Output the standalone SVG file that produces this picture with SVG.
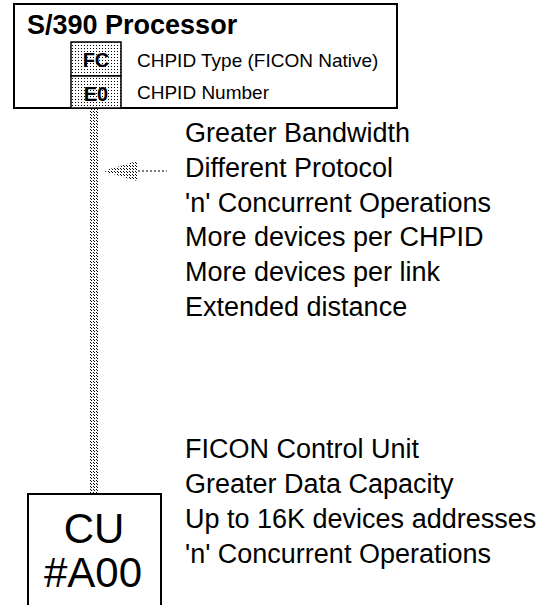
<svg xmlns="http://www.w3.org/2000/svg" width="555" height="605" viewBox="0 0 555 605">
<style>
  text { font-family: "Liberation Sans", Arial, sans-serif; fill: #000; }
  .title { font-size: 27px; font-weight: bold; }
  .small { font-size: 19px; }
  .code { font-size: 20px; font-weight: bold; text-anchor: middle; }
  .note { font-size: 27px; }
  .cu { font-size: 42px; text-anchor: middle; }
  .box { fill: #fff; stroke: #000; stroke-width: 2; }
  .cbox { fill: url(#stip); stroke: #000; stroke-width: 1.5; }
</style>
<defs>
  <pattern id="stip" width="3" height="3" patternUnits="userSpaceOnUse">
    <rect width="3" height="3" fill="#fff"/>
    <rect x="0" y="0" width="1" height="1" fill="#000"/>
  </pattern>
  <pattern id="hatch" width="3" height="3" patternUnits="userSpaceOnUse">
    <rect width="3" height="3" fill="#fff"/>
    <rect x="0" y="0" width="1" height="1" fill="#000"/>
    <rect x="1" y="1" width="1" height="1" fill="#000"/>
  </pattern>
</defs>

<g id="connectors">
  <rect x="90" y="109" width="8" height="385" fill="url(#hatch)"/>
  <polygon points="103,171 137,161 137,181" fill="url(#hatch)"/>
  <line x1="138" y1="171" x2="167" y2="171" stroke="#000" stroke-width="1" stroke-dasharray="2,2"/>
</g>

<g id="processor">
  <rect class="box" x="14" y="4" width="383" height="104"/>
  <text class="title" x="27" y="34">S/390 Processor</text>
  <rect class="cbox" x="71" y="42" width="50" height="34"/>
  <rect class="cbox" x="71" y="76" width="50" height="32"/>
  <text class="code" x="96" y="67">FC</text>
  <text class="code" x="96" y="101">E0</text>
  <text class="small" x="137" y="67">CHPID Type (FICON Native)</text>
  <text class="small" x="137" y="99">CHPID Number</text>
</g>

<g id="link-notes">
  <text class="note" x="185" y="142">Greater Bandwidth</text>
  <text class="note" x="185" y="176.8">Different Protocol</text>
  <text class="note" x="185" y="211.6">'n' Concurrent Operations</text>
  <text class="note" x="185" y="246.4">More devices per CHPID</text>
  <text class="note" x="185" y="281.2">More devices per link</text>
  <text class="note" x="185" y="316">Extended distance</text>
</g>

<g id="cu">
  <path class="box" d="M28,606 V494 H161 V606"/>
  <text class="cu" x="94" y="543">CU</text>
  <text class="cu" x="93" y="587">#A00</text>
</g>

<g id="cu-notes">
  <text class="note" x="185" y="458">FICON Control Unit</text>
  <text class="note" x="185" y="493">Greater Data Capacity</text>
  <text class="note" x="185" y="528">Up to 16K devices addresses</text>
  <text class="note" x="185" y="563">'n' Concurrent Operations</text>
</g>
</svg>
